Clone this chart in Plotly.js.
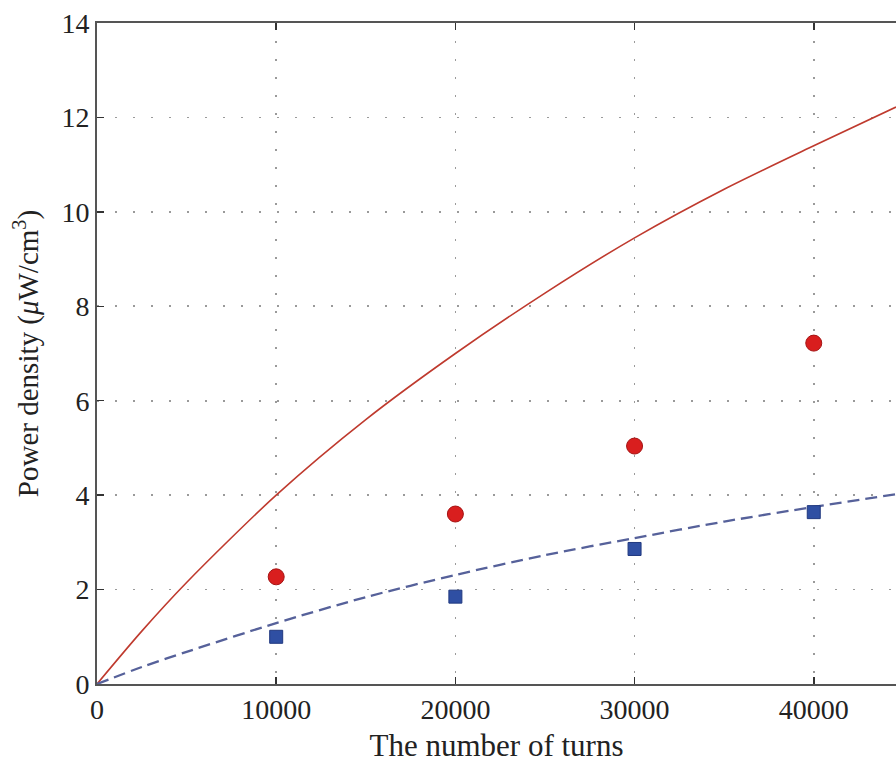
<!DOCTYPE html>
<html>
<head>
<meta charset="utf-8">
<script src="https://cdn.plot.ly/plotly-3.0.1.min.js"></script>
<style>html,body{margin:0;padding:0;background:#fff;overflow:hidden;}#chart{width:896px;height:767px;}</style>
</head>
<body>
<div id="chart"></div>
<script>
// Measured points (number of turns vs power density, µW/cm^3)
const turnsMeasured = [10000, 20000, 30000, 40000];
const measuredRed = [2.27, 3.60, 5.04, 7.22];
const measuredBlue = [1.00, 1.85, 2.86, 3.64];

// Model curves
const turnsCurve = [0, 2500, 5000, 10000, 15000, 20000, 25000, 30000, 35000, 40000, 44590];
const curveRed = [0, 1.12, 2.15, 4.0, 5.6, 7.0, 8.28, 9.45, 10.48, 11.4, 12.22];
const curveBlue = [0, 0.36, 0.68, 1.29, 1.84, 2.31, 2.73, 3.09, 3.44, 3.75, 4.02];

const xTicks = [0, 10000, 20000, 30000, 40000];
const yTicks = [0, 2, 4, 6, 8, 10, 12, 14];

const FONT = 'Liberation Serif, Times New Roman, serif';

const traces = [
  {x: turnsCurve, y: curveRed, mode: 'lines', line: {color: '#bf3a2e', width: 1.6, shape: 'spline', smoothing: 0.8}, hoverinfo: 'skip'},
  {x: turnsCurve, y: curveBlue, mode: 'lines', line: {color: '#56619a', width: 2.3, dash: '12px,6px', shape: 'spline', smoothing: 0.8}, hoverinfo: 'skip'},
  {x: turnsMeasured, y: measuredRed, mode: 'markers', marker: {symbol: 'circle', size: 16, color: '#d91e1e', line: {color: '#a51313', width: 1}}},
  {x: turnsMeasured, y: measuredBlue, mode: 'markers', marker: {symbol: 'square', size: 13, color: '#2f4fa3', line: {color: '#20387f', width: 1}}}
];

const layout = {
  width: 896, height: 767,
  margin: {l: 97, r: 0, t: 23, b: 83},
  paper_bgcolor: '#ffffff', plot_bgcolor: '#ffffff',
  showlegend: false,
  font: {family: FONT, size: 28, color: '#222'},
  xaxis: {
    range: [0, 44590], tickvals: xTicks, ticktext: xTicks.map(String),
    showline: true, linecolor: '#555', linewidth: 1.8, mirror: 'ticks',
    ticks: 'inside', ticklen: 7, tickwidth: 1.5, tickcolor: '#333',
    showgrid: true, gridcolor: '#9a9a9a', gridwidth: 1.6, griddash: '2px,16px',
    zeroline: false,
    tickfont: {family: FONT, size: 28, color: '#222'},
    title: {text: 'The number of turns', font: {family: FONT, size: 31, color: '#222'}, standoff: 10}
  },
  yaxis: {
    range: [0, 14], tickvals: yTicks, ticktext: yTicks.map(String),
    showline: true, linecolor: '#555', linewidth: 1.8, mirror: false,
    ticks: 'inside', ticklen: 7, tickwidth: 1.5, tickcolor: '#333',
    showgrid: true, gridcolor: '#9a9a9a', gridwidth: 1.6, griddash: '2px,16px',
    zeroline: false,
    tickfont: {family: FONT, size: 28, color: '#222'},
    title: {text: 'Power density (<i>μ</i>W/cm<sup>3</sup>)', font: {family: FONT, size: 29, color: '#222'}, standoff: 14}
  }
};

Plotly.newPlot('chart', traces, layout, {staticPlot: true, displayModeBar: false});
</script>
</body>
</html>
